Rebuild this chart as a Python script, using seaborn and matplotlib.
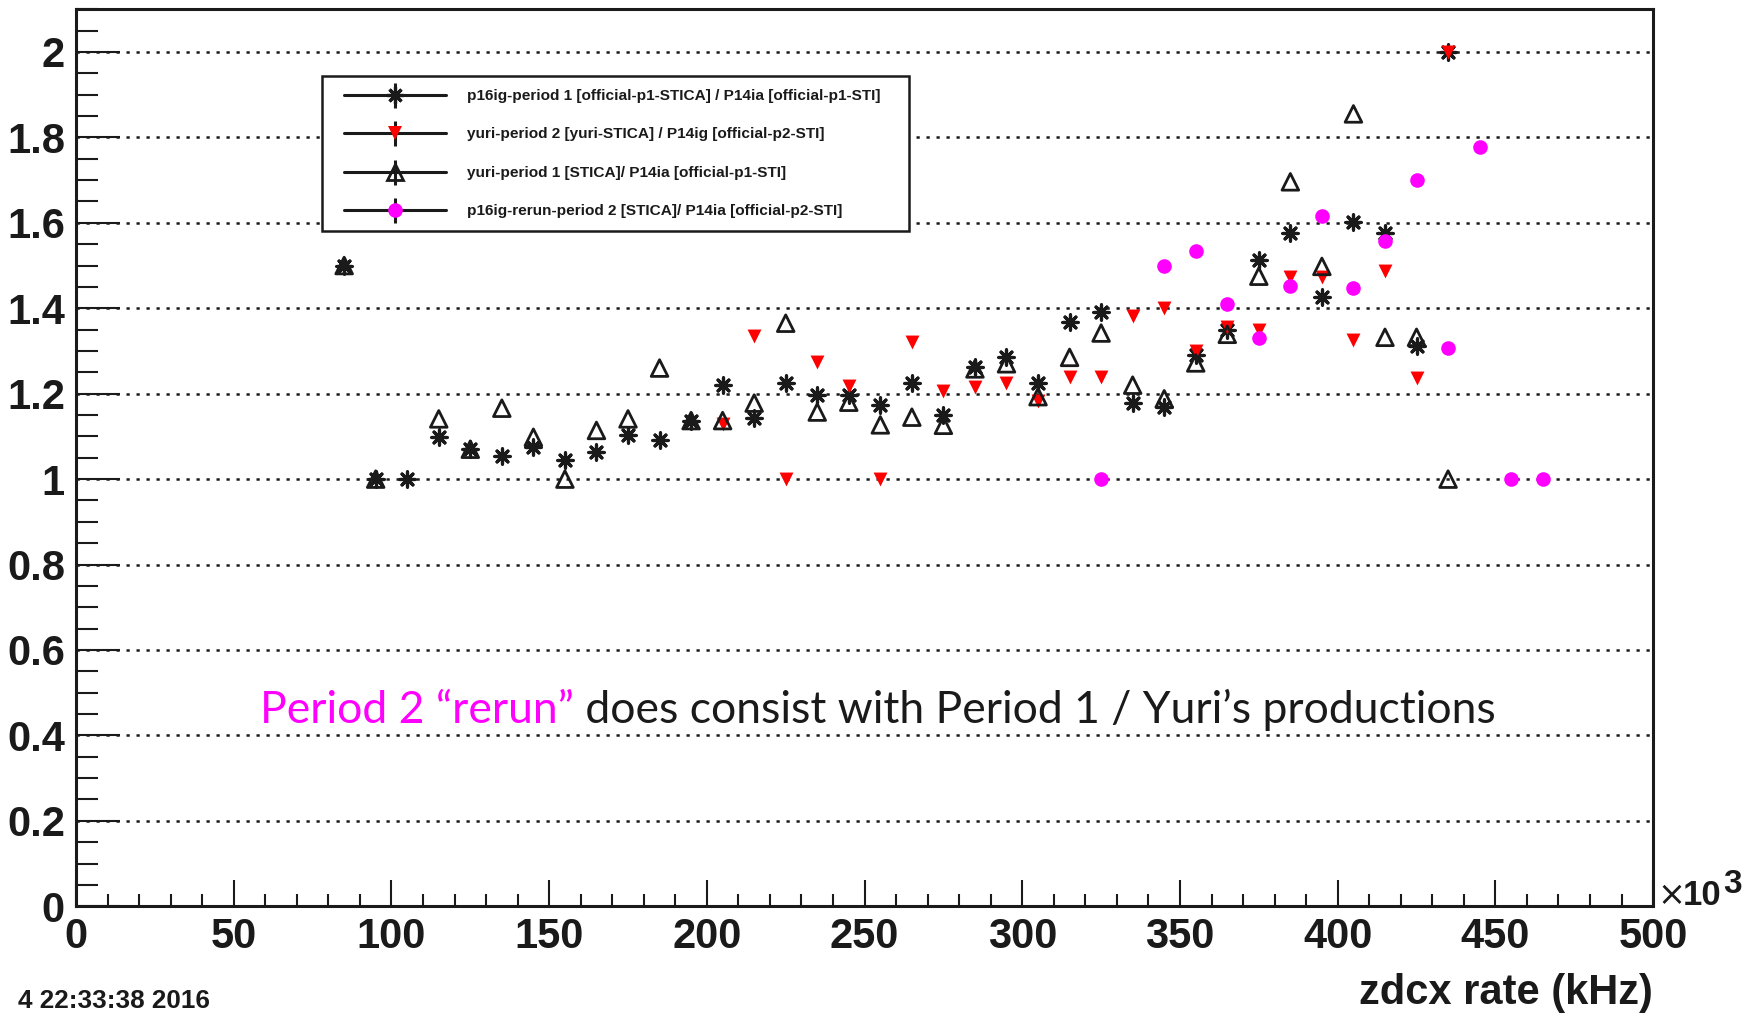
import numpy as np
import pandas as pd
import matplotlib
matplotlib.use('Agg')
import matplotlib.pyplot as plt
import seaborn as sns
from matplotlib.lines import Line2D
from matplotlib.legend_handler import HandlerTuple
from matplotlib.ticker import MultipleLocator, FuncFormatter

# ---------------- data ----------------
x_p1 = [85, 95, 105, 115, 125, 135, 145, 155, 165, 175, 185, 195, 205, 215, 225, 235,
        245, 255, 265, 275, 285, 295, 305, 315, 325, 335, 345, 355, 365, 375, 385, 395,
        405, 415, 425, 435]
y_p1 = [1.50, 1.00, 1.00, 1.098, 1.071, 1.055, 1.075, 1.045, 1.063, 1.104, 1.092, 1.135,
        1.221, 1.144, 1.225, 1.198, 1.197, 1.174, 1.225, 1.151, 1.262, 1.287, 1.225, 1.367,
        1.392, 1.178, 1.169, 1.291, 1.348, 1.514, 1.576, 1.426, 1.601, 1.577, 1.311, 2.00]

x_yuri2 = [205, 215, 225, 235, 245, 255, 265, 275, 285, 295, 305, 315, 325, 335, 345, 355,
           365, 375, 385, 395, 405, 415, 425, 435]
y_yuri2 = [1.13, 1.335, 1.00, 1.274, 1.219, 1.00, 1.32, 1.207, 1.215, 1.225, 1.184, 1.24,
           1.239, 1.382, 1.401, 1.301, 1.357, 1.349, 1.472, 1.472, 1.325, 1.488, 1.237, 2.00]

x_yuri1 = [85, 95, 115, 125, 135, 145, 155, 165, 175, 185, 195, 205, 215, 225, 235, 245,
           255, 265, 275, 285, 295, 305, 315, 325, 335, 345, 355, 365, 375, 385, 395, 405,
           415, 425, 435]
y_yuri1 = [1.50, 1.00, 1.141, 1.07, 1.166, 1.098, 1.00, 1.114, 1.141, 1.26, 1.137, 1.137,
           1.178, 1.365, 1.157, 1.18, 1.127, 1.145, 1.126, 1.258, 1.27, 1.193, 1.285, 1.342,
           1.22, 1.188, 1.272, 1.339, 1.475, 1.696, 1.498, 1.855, 1.332, 1.332, 1.00]

x_rerun = [325, 345, 355, 365, 375, 385, 395, 405, 415, 425, 435, 445, 455, 465]
y_rerun = [1.00, 1.50, 1.533, 1.409, 1.331, 1.451, 1.616, 1.447, 1.558, 1.70, 1.307, 1.777,
           1.00, 1.00]

labels = ["p16ig-period 1 [official-p1-STICA] / P14ia [official-p1-STI]",
          "yuri-period 2 [yuri-STICA] / P14ig [official-p2-STI]",
          "yuri-period 1 [STICA]/ P14ia [official-p1-STI]",
          "p16ig-rerun-period 2 [STICA]/ P14ia [official-p2-STI]"]

x_ticks = list(range(0, 501, 50))
y_ticks = [0, 0.2, 0.4, 0.6, 0.8, 1.0, 1.2, 1.4, 1.6, 1.8, 2.0]

# ---------------- style ----------------
sns.set_theme(style='white')
plt.rcParams['font.family'] = ['Liberation Sans', 'DejaVu Sans']
plt.rcParams['font.weight'] = 'bold'

fig = plt.figure(figsize=(17.48, 10.16), dpi=100)
fig.patch.set_facecolor('white')
ax = fig.add_axes([0.0435, 0.108, 0.9022, 0.8829])
ax.set_facecolor('white')

RED = '#ff0000'
MAG = '#ff00ff'
STAR = (8, 2, 0)

df1 = pd.DataFrame({'x': x_p1, 'y': y_p1})
df2 = pd.DataFrame({'x': x_yuri2, 'y': y_yuri2})
df3 = pd.DataFrame({'x': x_yuri1, 'y': y_yuri1})
df4 = pd.DataFrame({'x': x_rerun, 'y': y_rerun})

sns.scatterplot(data=df1, x='x', y='y', marker=STAR, s=11 ** 2, color='k',
                edgecolor='k', linewidth=2.3, ax=ax, legend=False, zorder=3)
sns.scatterplot(data=df2, x='x', y='y', marker='v', s=10 ** 2, color=RED,
                edgecolor=RED, linewidth=0, ax=ax, legend=False, zorder=4)
sns.scatterplot(data=df3, x='x', y='y', marker='^', s=12 ** 2, facecolor='none',
                edgecolor='k', linewidth=2.0, ax=ax, legend=False, zorder=5)
sns.scatterplot(data=df4, x='x', y='y', marker='o', s=10.5 ** 2, color=MAG,
                edgecolor=MAG, linewidth=0, ax=ax, legend=False, zorder=6)

ax.set_xlim(0, 500)
ax.set_ylim(0, 2.1)
ax.set_xlabel('')
ax.set_ylabel('')

ax.set_xticks(x_ticks)
ax.set_yticks(y_ticks)
ax.xaxis.set_minor_locator(MultipleLocator(10))
ax.yaxis.set_minor_locator(MultipleLocator(0.05))
ax.yaxis.set_major_formatter(FuncFormatter(lambda v, p: '%g' % round(v, 2)))
ax.xaxis.set_major_formatter(FuncFormatter(lambda v, p: '%g' % v))

ax.tick_params(axis='y', which='major', direction='in', length=32, width=1.5,
               left=True, right=False, labelsize=30, pad=8, color='k', labelcolor='k')
ax.tick_params(axis='y', which='minor', direction='in', length=16, width=1.5,
               left=True, right=False, color='k')
ax.tick_params(axis='x', which='major', direction='in', length=19, width=1.5,
               bottom=True, top=False, labelsize=30, pad=8, color='k', labelcolor='k')
ax.tick_params(axis='x', which='minor', direction='in', length=9, width=1.5,
               bottom=True, top=False, color='k')

for sp in ax.spines.values():
    sp.set_visible(True)
    sp.set_color('k')
    sp.set_linewidth(2.2)

ax.set_axisbelow(True)
ax.yaxis.grid(True, which='major', color='k', linewidth=1.8, linestyle=(0, (1.3, 2.7)))
ax.xaxis.grid(False)


# ---------------- legend ----------------
class PadTuple(HandlerTuple):
    """Tuple handler that leaves a small gap at the left of the handle box."""
    def create_artists(self, legend, orig_handle, xdescent, ydescent, width, height,
                       fontsize, trans):
        shift = 9.0 * 72.0 / fig.dpi
        return super().create_artists(legend, orig_handle, xdescent - shift, ydescent,
                                      width - shift, height, fontsize, trans)


def entry(marker, face, edge, ms, mew):
    line = Line2D([], [], color='k', lw=2.2)
    bar = Line2D([], [], ls='', marker='|', ms=18, mew=2.2, color='k')
    mk = Line2D([], [], ls='', marker=marker, ms=ms, mew=mew,
                markerfacecolor=face, markeredgecolor=edge)
    return (line, bar, mk)


handles = [entry(STAR, 'k', 'k', 12, 2.3),
           entry('v', RED, RED, 10, 0),
           entry('^', 'none', 'k', 12, 2.0),
           entry('o', MAG, MAG, 10.5, 0)]

leg = ax.legend(handles, labels, loc='upper left', mode='expand',
                bbox_to_anchor=(322 / 1748, 1 - 230 / 1016, 587 / 1748, 154 / 1016),
                bbox_transform=fig.transFigure, borderaxespad=0,
                handler_map={tuple: PadTuple(ndivide=1, pad=0)},
                fontsize=11.1, handlelength=7.2, handletextpad=1.36,
                labelspacing=1.59, borderpad=0.84, frameon=True, fancybox=False,
                edgecolor='k', framealpha=1, numpoints=1)
leg.get_frame().set_linewidth(1.8)
for t in leg.get_texts():
    t.set_fontweight('bold')
    t.set_color('k')
leg.set_zorder(10)

# ---------------- texts ----------------
ann_font = ['Lato', 'DejaVu Sans']
t1 = ax.text(58.3, 0.458, 'Period 2 \u201crerun\u201d', color=MAG, fontsize=32,
             family=ann_font, fontweight='normal', va='center', ha='left')
ax.annotate(' does consist with Period 1 / Yuri\u2019s productions', xy=(1, 0),
            xycoords=t1, va='bottom', ha='left', color='k', fontsize=32,
            family=ann_font, fontweight='normal')

# x10^3 multiplier
fig.text(1657 / 1748, 1 - 905 / 1016, '\u00d7', fontsize=24, fontweight='normal',
         ha='left', va='baseline', color='k', family=['DejaVu Sans'])
fig.text(1683 / 1748, 1 - 905 / 1016, '10', fontsize=25, fontweight='bold',
         ha='left', va='baseline', color='k')
fig.text(1723 / 1748, 1 - 893 / 1016, '3', fontsize=24, fontweight='bold',
         ha='left', va='baseline', color='k')

fig.text(1653 / 1748, 1 - 1004 / 1016, 'zdcx rate (kHz)', fontsize=30, fontweight='bold',
         ha='right', va='baseline', color='k')
fig.text(18 / 1748, 1 - 1008 / 1016, '4 22:33:38 2016', fontsize=18.8, fontweight='bold',
         ha='left', va='baseline', color='k')

fig.savefig('out.png', dpi=100, facecolor='white')
